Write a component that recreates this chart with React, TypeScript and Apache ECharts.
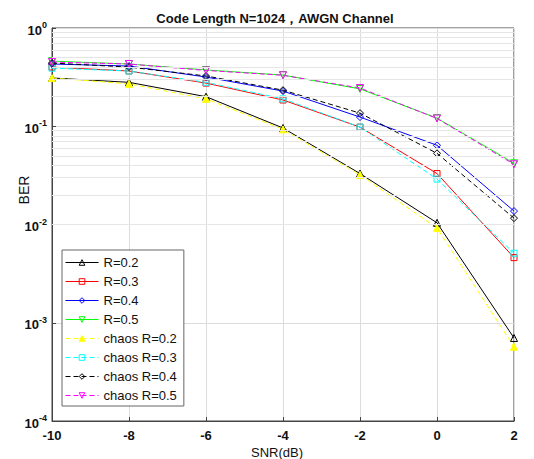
import React, { useEffect, useRef } from "react";
import * as echarts from "echarts";

const snr = [-10, -8, -6, -4, -2, 0, 2];
const r02 = [0.31, 0.28, 0.2, 0.096, 0.033, 0.0104, 0.0007];
const r03 = [0.4, 0.365, 0.275, 0.185, 0.098, 0.033, 0.0046];
const r04 = [0.43, 0.41, 0.317, 0.228, 0.124, 0.064, 0.0137];
const r05 = [0.46, 0.43, 0.374, 0.332, 0.24, 0.121, 0.042];
const chaosR02 = [0.31, 0.27, 0.19, 0.093, 0.032, 0.0092, 0.00057];
const chaosR03 = [0.39, 0.365, 0.28, 0.19, 0.098, 0.029, 0.0051];
const chaosR04 = [0.44, 0.4, 0.325, 0.233, 0.136, 0.053, 0.0116];
const chaosR05 = [0.45, 0.43, 0.37, 0.33, 0.245, 0.12, 0.041];

const decades = [1e-4, 1e-3, 1e-2, 1e-1];
const minorMultipliers = [2, 3, 4, 5, 6, 7, 8, 9];

const FONT = "Arial, 'Liberation Sans', sans-serif";

type Def = {
  name: string;
  data: number[];
  color: string;
  symbol: string;
  rotate?: number;
  dashed: boolean;
  filled?: boolean;
};

const defs: Def[] = [
  { name: "R=0.2", data: r02, color: "#000000", symbol: "triangle", dashed: false },
  { name: "R=0.3", data: r03, color: "#ff0000", symbol: "rect", dashed: false },
  { name: "R=0.4", data: r04, color: "#0000ff", symbol: "diamond", dashed: false },
  { name: "R=0.5", data: r05, color: "#00ff00", symbol: "triangle", rotate: 180, dashed: false },
  { name: "chaos R=0.2", data: chaosR02, color: "#ffff00", symbol: "triangle", dashed: true, filled: true },
  { name: "chaos R=0.3", data: chaosR03, color: "#00ffff", symbol: "rect", dashed: true },
  { name: "chaos R=0.4", data: chaosR04, color: "#000000", symbol: "diamond", dashed: true },
  { name: "chaos R=0.5", data: chaosR05, color: "#ff00ff", symbol: "triangle", rotate: 180, dashed: true },
];

export default function App() {
  const ref = useRef<HTMLDivElement>(null);
  useEffect(() => {
    if (!ref.current) return;
    const chart = echarts.init(ref.current, null, { renderer: "svg" });
    const minorValues: number[] = [];
    decades.forEach((d) => minorMultipliers.forEach((m) => minorValues.push(m * d)));

    const itemStyleOf = (d: Def) => ({
      color: d.filled ? d.color : "rgba(255,255,255,0)",
      borderColor: d.color,
      borderWidth: 1,
    });
    const lineStyleOf = (d: Def) => ({
      color: d.color,
      width: 1,
      type: d.dashed ? [5, 3] : "solid",
    });

    const series: any[] = [
      {
        type: "line",
        name: "_grid",
        data: [
          [snr[0], decades[0]],
          [snr[snr.length - 1], decades[0]],
        ],
        silent: true,
        showSymbol: false,
        symbol: "none",
        lineStyle: { opacity: 0 },
        z: 1,
        markLine: {
          silent: true,
          symbol: ["none", "none"],
          label: { show: false },
          lineStyle: { color: "#e6e6e6", type: "solid", width: 1 },
          data: minorValues.map((v) => ({ yAxis: v })),
        },
      },
      ...defs.map((d) => ({
        type: "line",
        name: d.name,
        data: d.data.map((v, i) => [snr[i], v]),
        color: d.color,
        symbol: d.symbol,
        symbolSize: d.symbol === "rect" ? 6 : 7,
        symbolRotate: d.rotate || 0,
        z: 3,
        lineStyle: lineStyleOf(d),
        itemStyle: itemStyleOf(d),
      })),
    ];

    chart.setOption({
      animation: false,
      backgroundColor: "#ffffff",
      textStyle: { fontFamily: FONT },
      grid: {
        left: 52,
        top: 28,
        width: 462,
        height: 393,
        show: true,
        borderColor: "#444",
        borderWidth: 1,
        backgroundColor: "transparent",
      },
      legend: {
        data: defs.map((d) => ({
          name: d.name,
          itemStyle: itemStyleOf(d),
          lineStyle: lineStyleOf(d),
        })),
        orient: "vertical",
        left: 62,
        top: 250,
        itemWidth: 33,
        itemHeight: 7,
        itemGap: 6,
        padding: [6, 7, 4, 3],
        borderColor: "#666",
        borderWidth: 1,
        backgroundColor: "#ffffff",
        z: 10,
        lineStyle: { width: 1 },
        textStyle: { fontSize: 13, fontFamily: FONT, color: "#111" },
      },
      xAxis: {
        type: "value",
        min: -10,
        max: 2,
        interval: 2,
        axisLine: { show: true, onZero: false, lineStyle: { color: "#444" } },
        axisTick: { show: true, inside: true, length: 4, lineStyle: { color: "#444" } },
        axisLabel: { fontSize: 13, fontWeight: "bold", color: "#111", margin: 8, fontFamily: FONT },
        splitLine: { show: true, lineStyle: { color: "#dcdcdc", width: 1 } },
      },
      yAxis: {
        type: "log",
        logBase: 10,
        min: 1e-4,
        max: 1,
        axisLine: { show: true, onZero: false, lineStyle: { color: "#444" } },
        axisTick: { show: true, inside: true, length: 4, lineStyle: { color: "#444" } },
        axisLabel: {
          margin: 5,
          formatter: (v: number) => `{b|10}{s|${Math.round(Math.log10(v))}}`,
          rich: {
            b: { fontSize: 13, fontWeight: "bold", color: "#111", fontFamily: FONT, padding: [4, 0, 0, 0] },
            s: { fontSize: 9, fontWeight: "bold", color: "#111", fontFamily: FONT, padding: [0, 0, 6, 0] },
          },
        },
        splitLine: { show: true, lineStyle: { color: "#dcdcdc", width: 1 } },
      },
      graphic: [
        {
          type: "text",
          x: 275,
          y: 18,
          style: {
            text: "Code Length N=1024，AWGN Channel",
            fontSize: 13,
            fontWeight: "bold",
            fontFamily: FONT,
            fill: "#111",
            textAlign: "center",
            textVerticalAlign: "middle",
          },
        },
        {
          type: "text",
          x: 277,
          y: 452,
          style: {
            text: "SNR(dB)",
            fontSize: 13,
            fontFamily: FONT,
            fill: "#111",
            textAlign: "center",
            textVerticalAlign: "middle",
          },
        },
        {
          type: "text",
          x: 24,
          y: 190,
          rotation: Math.PI / 2,
          style: {
            text: "BER",
            fontSize: 14,
            fontFamily: FONT,
            fill: "#111",
            textAlign: "center",
            textVerticalAlign: "middle",
          },
        },
      ],
      series,
    });
    return () => chart.dispose();
  }, []);
  return (
    <div
      ref={ref}
      style={{ position: "fixed", left: 0, top: 0, width: 534, height: 459, background: "#fff" }}
    />
  );
}
